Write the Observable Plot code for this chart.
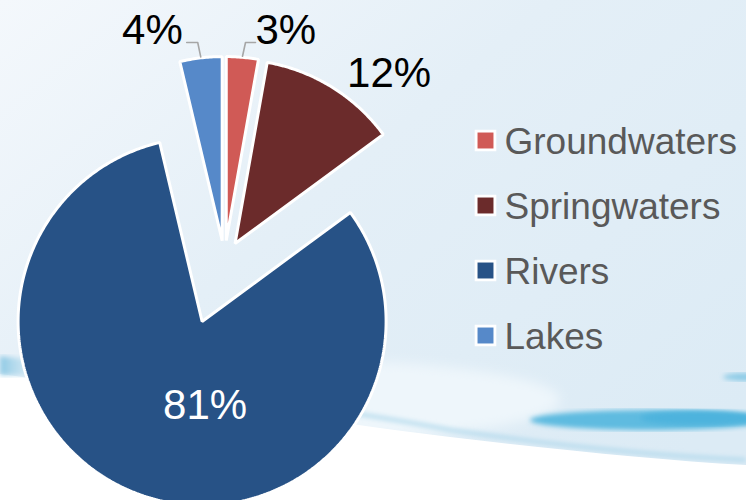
<!DOCTYPE html>
<html><head><meta charset="utf-8">
<script src="https://cdn.jsdelivr.net/npm/d3@7"></script>
<script src="https://cdn.jsdelivr.net/npm/@observablehq/plot@0.6"></script>
<style>
html,body{margin:0;padding:0;background:#fff;}
#wrap{position:relative;width:746px;height:500px;overflow:hidden;font-family:"Liberation Sans",Arial,sans-serif;}
#bg{position:absolute;left:0;top:0;}
#chart{position:absolute;left:0;top:0;}
</style></head><body>
<div id="wrap">
<svg id="bg" width="746" height="500">
 <defs>
  <linearGradient id="sky" x1="0" y1="0" x2="1" y2="0.8">
    <stop offset="0" stop-color="#f4f8fc"/>
    <stop offset="0.45" stop-color="#e4eff7"/>
    <stop offset="1" stop-color="#dcebf5"/>
  </linearGradient>
  <linearGradient id="streakL" x1="0" y1="0" x2="1" y2="0">
    <stop offset="0" stop-color="#8cc8e4"/>
    <stop offset="1" stop-color="#cfe7f3" stop-opacity="0"/>
  </linearGradient>
  <filter id="blur"><feGaussianBlur stdDeviation="2.5"/></filter>
  <filter id="blur2"><feGaussianBlur stdDeviation="6"/></filter>
 </defs>
 <rect width="746" height="500" fill="url(#sky)"/>
 <ellipse cx="300" cy="400" rx="260" ry="40" fill="#eef6fb" filter="url(#blur2)"/>
 <path d="M300,405 C360,414 420,424 450,430 C560,446 660,456 746,460" fill="none" stroke="#a9d5ea" stroke-width="3" filter="url(#blur)"/>
 <path d="M0,374 C120,390 300,418 450,437 C560,450 660,460 746,465 L746,500 L0,500 Z" fill="#ffffff"/>
 <path d="M0,356 L50,362 L50,376 L0,375 Z" fill="url(#streakL)" filter="url(#blur)"/>
 <ellipse cx="650" cy="420" rx="120" ry="10" fill="#5fbbe0" filter="url(#blur)"/>
 <ellipse cx="700" cy="418" rx="60" ry="7" fill="#4db3dd" filter="url(#blur)"/>
 <ellipse cx="748" cy="377" rx="25" ry="4" fill="#8ccbe6" filter="url(#blur)"/>
</svg>
<div id="chart"></div>
</div>
<script>
// ---- data ----
const categories = ["Groundwaters", "Springwaters", "Rivers", "Lakes"];
const shares = [2.8, 12.1, 81.4, 3.7];
const labels = ["3%", "12%", "81%", "4%"];
const colors = ["#d05a56", "#6b2b2b", "#275286", "#5689c9"];

// ---- layout ----
const W = 746, H = 500;
const cx = 224, cy = 260, R = 184;
const explode = {Groundwaters: 20, Springwaters: 20, Rivers: 65, Lakes: 20};

const arcs = d3.pie().sort(null).value(d => d)(shares);
const slices = arcs.map((a, i) => {
  const name = categories[i];
  const mid = (a.startAngle + a.endAngle) / 2;
  const e = explode[name];
  const vx = cx + e * Math.sin(mid), vy = cy - e * Math.cos(mid);
  return {name, a0: a.startAngle, a1: a.endAngle, mid, vx, vy, label: labels[i]};
});

const pts = [];
for (const s of slices) {
  pts.push({name: s.name, x: s.vx, y: s.vy});
  const n = Math.max(2, Math.ceil((s.a1 - s.a0) / 0.01));
  for (let k = 0; k <= n; k++) {
    const a = s.a0 + (s.a1 - s.a0) * k / n;
    pts.push({name: s.name, x: s.vx + R * Math.sin(a), y: s.vy - R * Math.cos(a)});
  }
}

const byName = Object.fromEntries(slices.map(s => [s.name, s]));
const arcPoint = (s, rr) => ({x: s.vx + rr * Math.sin(s.mid), y: s.vy - rr * Math.cos(s.mid)});

// leader lines for small outside labels
const leaderY = 42;
const leaders = [];
const textRows = [];
{
  const s = byName["Lakes"]; const p = arcPoint(s, R + 1);
  leaders.push({id: "L", x: p.x, y: p.y}, {id: "L", x: p.x - 3, y: leaderY}, {id: "L", x: p.x - 14, y: leaderY});
  textRows.push({text: s.label, x: p.x - 18, y: leaderY + 1, anchor: "end", fill: "#000"});
}
{
  const s = byName["Groundwaters"]; const p = arcPoint(s, R + 1);
  leaders.push({id: "G", x: p.x, y: p.y}, {id: "G", x: p.x + 3, y: leaderY}, {id: "G", x: p.x + 13, y: leaderY});
  textRows.push({text: s.label, x: p.x + 13, y: leaderY + 1, anchor: "start", fill: "#000"});
}
{
  const s = byName["Springwaters"];
  textRows.push({text: s.label, x: s.vx + 154, y: s.vy - 157, anchor: "middle", fill: "#000"});
}
{
  const s = byName["Rivers"];
  textRows.push({text: s.label, x: s.vx + 3, y: s.vy + 97, anchor: "middle", fill: "#fff"});
}

// legend
const legend = categories.map((c, i) => ({name: c, x: 485, y: 140 + i * 65}));

const chart = Plot.plot({
  width: W, height: H, margin: 0,
  x: {domain: [0, W], range: [0, W], axis: null},
  y: {domain: [0, H], range: [0, H], axis: null},
  color: {domain: categories, range: colors},
  style: {background: "transparent", overflow: "visible", fontFamily: "Liberation Sans, Arial, sans-serif"},
  marks: [
    Plot.line(pts, {x: "x", y: "y", z: "name", fill: "name", stroke: "white", strokeWidth: 3, curve: "linear-closed", strokeLinejoin: "miter"}),
    Plot.line(leaders, {x: "x", y: "y", z: "id", stroke: "#a6a6a6", strokeWidth: 1.6}),
    Plot.text(textRows.filter(d => d.anchor === "end"), {x: "x", y: "y", text: "text", textAnchor: "end", lineAnchor: "bottom", fontSize: 42, fill: "fill"}),
    Plot.text(textRows.filter(d => d.anchor === "start"), {x: "x", y: "y", text: "text", textAnchor: "start", lineAnchor: "bottom", fontSize: 42, fill: "fill"}),
    Plot.text(textRows.filter(d => d.anchor === "middle"), {x: "x", y: "y", text: "text", textAnchor: "middle", lineAnchor: "bottom", fontSize: 42, fill: "fill"}),
    Plot.dot(legend, {x: "x", y: "y", symbol: "square", r: 10.5, fill: "white", stroke: "white", strokeWidth: 3}),
    Plot.dot(legend, {x: "x", y: "y", symbol: "square", r: 9, fill: "name"}),
    Plot.text(legend, {x: d => d.x + 19, y: d => d.y + 13, text: "name", textAnchor: "start", lineAnchor: "bottom", fontSize: 37, fill: "#595959"})
  ]
});
document.getElementById("chart").appendChild(chart);
</script>
</body></html>
